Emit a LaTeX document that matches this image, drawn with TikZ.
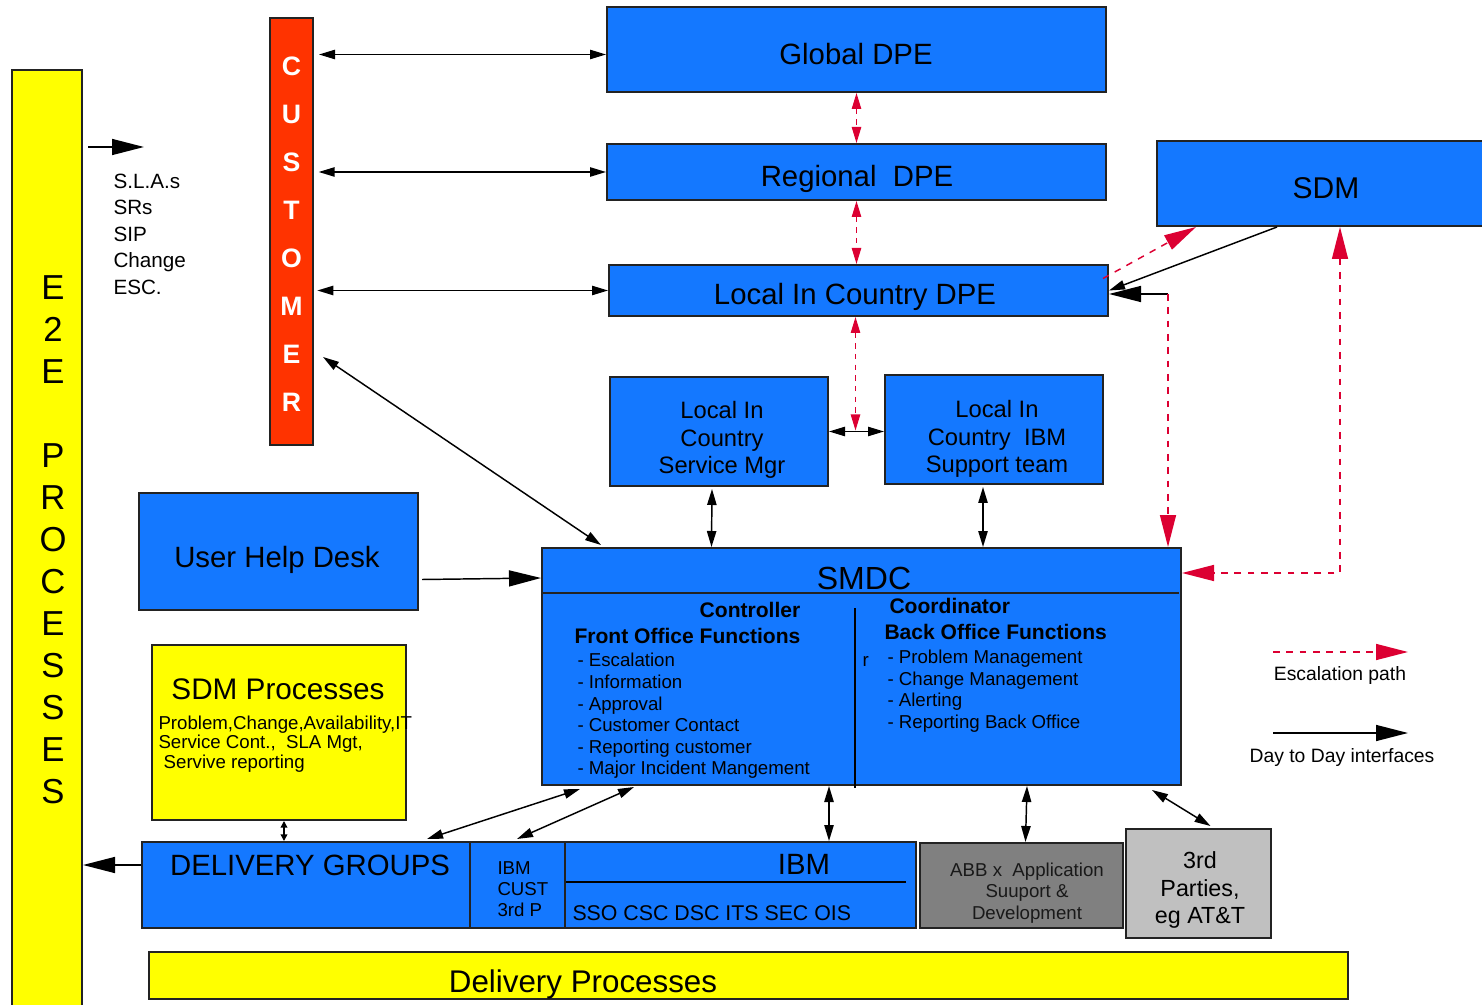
\documentclass[tikz,border=0pt]{standalone}
\usepackage{fontspec}
\setmainfont{Liberation Sans}
\usetikzlibrary{arrows.meta,calc,fit}

\definecolor{dpeblue}{RGB}{20,120,255}
\definecolor{procyellow}{RGB}{255,255,0}
\definecolor{custred}{RGB}{255,51,0}
\definecolor{escred}{RGB}{220,0,50}
\definecolor{abbgrey}{RGB}{128,128,128}
\definecolor{thirdgrey}{RGB}{192,192,192}
\definecolor{edge}{RGB}{35,35,35}

\newcommand{\fsz}[2]{\fontsize{#1}{#2}\selectfont}

\tikzset{every picture/.style={line width=0.75pt}}
\tikzset{
  blk/.style={draw=edge, line width=1.5pt, inner sep=0pt},
  bluebox/.style={blk, fill=dpeblue},
  yelbox/.style={blk, fill=procyellow},
  txt/.style={inner sep=0pt, align=left},
  ctxt/.style={inner sep=0pt, align=center},
  day/.style={draw=black, line width=1.1pt, {Triangle[length=12pt,width=7pt]}-{Triangle[length=12pt,width=7pt]}},
  daysmall/.style={draw=black, line width=1.1pt, {Triangle[length=5pt,width=5pt]}-{Triangle[length=5pt,width=5pt]}},
  dayone/.style={draw=black, line width=1.1pt, -{Triangle[length=12pt,width=7pt]}},
  daybig/.style={draw=black, line width=1.1pt, -{Triangle[length=24pt,width=12pt]}},
  esc/.style={draw=escred, line width=1.1pt, dash pattern=on 4pt off 4pt, {Triangle[length=12pt,width=7pt]}-{Triangle[length=12pt,width=7pt]}},
  escbig/.style={draw=escred, line width=1.1pt, dash pattern=on 5pt off 5pt, -{Triangle[length=24pt,width=12pt]}},
  escbigtwo/.style={draw=escred, line width=1.1pt, dash pattern=on 5pt off 5pt, {Triangle[length=24pt,width=12pt]}-{Triangle[length=24pt,width=12pt]}}
}

\begin{document}
\begin{tikzpicture}[x=0.75pt,y=0.75pt,yscale=-1,xscale=1]
\useasboundingbox (0,0) rectangle (1482,1005);

%Shape: Rectangle
\node[yelbox, fit={(12,70) (82,1015)}] (e2e) {};
\node[blk, fill=custred, fit={(270,18) (313,445)}] (cust) {};
\node[bluebox, fit={(607,7) (1106,92)}] (gdpe) {};
\node[bluebox, fit={(607,144) (1106,200)}] (rdpe) {};
\node[bluebox, fit={(609,265) (1108,316)}] (ldpe) {};
\node[bluebox, fit={(1157,141) (1495,226)}] (sdm) {};
\node[bluebox, fit={(610,377) (828,486)}] (lsm) {};
\node[bluebox, fit={(885,375) (1103,484)}] (lsup) {};
\node[bluebox, fit={(139,493) (418,610)}] (uhd) {};
\node[bluebox, fit={(542,548) (1181,785)}] (smdc) {};
\node[yelbox, fit={(152,645) (406,820)}] (sdmp) {};
\node[bluebox, fit={(142,842) (916,928)}] (dg) {};
\node[blk, fill=abbgrey, fit={(920,843) (1123,928)}] (abb) {};
\node[blk, fill=thirdgrey, fit={(1126,829) (1271,938)}] (third) {};
\node[yelbox, fit={(149,952) (1348,999)}] (dproc) {};

%Straight Lines
\draw[line width=1.5pt, edge] (543,593) -- (1179,593);
\draw[line width=1.2pt] (855,608) -- (855,788);
\draw[line width=1.5pt, edge] (470,842) -- (470,928);
\draw[line width=1.5pt, edge] (565,842) -- (565,928);
\draw[line width=1.2pt] (566,882) -- (906,882);

% Text Node
\node[ctxt, font=\fsz{26}{31.5}] (e2etext) at (53,540) {E\\2\\E\\[31.5pt]P\\R\\O\\C\\E\\S\\S\\E\\S};
\node[ctxt, text=white, font=\bfseries\fsz{20}{36}] (custtext) at (291.5,234) {C\\U\\S\\T\\O\\M\\E\\R};
\node[ctxt, font=\fsz{22}{26}] (gdpetext) at (856,54) {Global DPE};
\node[ctxt, font=\fsz{22}{26}] (rdpetext) at (857,179) {Regional\ \ DPE};
\node[ctxt, font=\fsz{22}{26}] (ldpetext) at (855,297) {Local In Country DPE};
\node[ctxt, font=\fsz{22.5}{26}] (sdmtext) at (1326,188) {SDM};
\node[ctxt, font=\fsz{17.8}{20.6}] (lsmtext) at (722,440) {Local In\\Country\\Service Mgr};
\node[ctxt, font=\fsz{17.8}{20.6}] (lsuptext) at (997,439) {Local In\\Country\ \ IBM\\Support team};
\node[ctxt, font=\fsz{22}{26}] (uhdtext) at (277,560) {User Help Desk};
\node[ctxt, font=\fsz{14}{16}, text=black!90] (abbtext) at (1027,893) {ABB x\ \ Application\\Suuport \&\\Development};
\node[ctxt, font=\fsz{17.5}{20.6}] (thirdtext) at (1200,890) {3rd\\Parties,\\eg AT\&T};
% Text Node
\node[txt, font=\fsz{15.5}{19.9}, anchor=west] (slas) at (113,234) {S.L.A.s\\SRs\\SIP\\Change\\ESC.};
% Text Node
\node[txt, font=\fsz{24}{28}] (smdctitle) at (864,578) {SMDC};
\node[txt, font=\bfseries\fsz{15.8}{18}] (ctrl) at (750,610) {Controller};
\node[txt, anchor=west, font=\bfseries\fsz{15.8}{18}] (front) at (574,636) {Front Office Functions};
\node[txt, anchor=west, font=\fsz{14}{16.2}] (frontlist) at (577,716) {- Escalation\\- Information\\- Approval\\- Customer Contact\\- Reporting customer\\- Major Incident Mangement};
\node[txt, anchor=west, font=\bfseries\fsz{15.8}{18}] (coord) at (889,606) {Coordinator};
\node[txt, anchor=west, font=\bfseries\fsz{15.8}{18}] (back) at (884,632) {Back Office Functions};
\node[txt, anchor=west, font=\fsz{14}{16.2}] (stray) at (862,661) {r};
\node[txt, anchor=west, font=\fsz{14}{16.2}] (backlist) at (887,691) {- Problem Management\\- Change Management\\- Alerting\\- Reporting Back Office};
% Text Node
\node[txt, font=\fsz{22.3}{26}] (sdmptitle) at (278,689) {SDM Processes};
\node[txt, anchor=west, font=\fsz{14}{14.5}] (sdmplist) at (158,744) {Problem,Change,Availability,IT\\Service Cont.,\ \ SLA Mgt,\\\ Servive reporting};
% Text Node
\node[txt, font=\fsz{22}{26}] (dgtitle) at (310,865) {DELIVERY GROUPS};
\node[txt, anchor=west, font=\fsz{14}{16}] (dgcust) at (497,889) {IBM\\CUST\\3rd P};
\node[txt, font=\fsz{22}{26}] (dgibm) at (804,864) {IBM};
\node[txt, anchor=west, font=\fsz{16}{18}] (dgunits) at (572,913) {SSO CSC DSC ITS SEC OIS};
% Text Node
\node[txt, font=\fsz{23.5}{27}] (dproctext) at (583,984) {Delivery Processes};

%Straight Lines
\draw[day] ($(cust.east |- gdpe.west)+(5,5)$) -- ($(gdpe.west)+(0,5)$);
\draw[day] ([xshift=3.5pt]cust.east |- rdpe.west) -- (rdpe.west);
\draw[day] ([xshift=2.5pt]cust.east |- ldpe.west) -- (ldpe.west);
\coordinate (custlink) at (323,357);
\draw[day] (custlink) -- ($(smdc.north west)+(60,-2)$);
\draw[esc] (gdpe.south) -- (rdpe.south |- rdpe.north);
\draw[esc] (rdpe.south) -- (rdpe.south |- ldpe.north);
\coordinate (lsmid) at ($(lsm.east)!0.5!(lsup.west)$);
\draw[esc] ($(ldpe.south)+(-3,0)$) -- ($(ldpe.south |- lsmid)+(-3,0)$);
\draw[day] (lsm.east) -- (lsm.east -| lsup.west);
\draw[day] ($(lsm.south)+(-7,2)$) -- ($(smdc.north)+(-150,0)$);
\draw[day] ($(lsup.south)+(-11,2)$) -- ($(smdc.north)+(121.5,0)$);
\draw[daybig] ($(uhd.east)+(3,28)$) -- ($(smdc.north west)+(0,31)$);

%SDM links
\draw[dayone] ($(sdm.south west)+(121,0)$) -- (ldpe.east);
\coordinate (sdmdrop) at (1168,294);
\draw[daybig] (sdmdrop) -- (sdmdrop -| ldpe.east);
\draw[escbig] (sdmdrop) -- (sdmdrop |- smdc.north);
\draw[escbig] ($(ldpe.east)+(-6,-12)$) -- ($(sdm.south west)+(40,0)$);
\coordinate (sdmcorner) at (1340,573);
\draw[escbigtwo] (sdmcorner |- sdm.south) -- (sdmcorner) -- (sdmcorner -| smdc.east);

%Lower links
\draw[day] ($(smdc.south west)+(39,3)$) -- ($(dg.north west)+(286,-2)$);
\draw[day] ($(smdc.south west)+(93,1)$) -- ($(dg.north west)+(376,-2)$);
\draw[day] ($(smdc.south west)+(288,0)$) -- ($(dg.north west)+(688,0)$);
\draw[day] ($(smdc.south east)+(-155,0)$) -- ($(abb.north)+(4,0)$);
\draw[day] ($(smdc.south east)+(-30,4)$) -- ($(third.north)+(12,-2)$);
\draw[daysmall] ($(sdmp.south)+(5,0)$) -- ($(sdmp.south |- dg.north)+(5,0)$);
\draw[daybig] ($(dg.west)+(0,-20)$) -- ($(dg.west -| e2e.east)+(0,-20)$);
\draw[daybig] ($(e2e.north east)+(5,78)$) -- ++(56,0);

%Legend
\coordinate (esckey) at (1273,652);
\draw[escbig] (esckey) -- ++(135,0);
\node[txt, font=\fsz{14.5}{17}] (esctext) at (1340,676) {Escalation path};
\coordinate (daykey) at (1273,733);
\draw[daybig] (daykey) -- ++(135,0);
\node[txt, font=\fsz{14.5}{17}] (daytext) at (1342,757) {Day to Day interfaces};

\end{tikzpicture}
\end{document}
